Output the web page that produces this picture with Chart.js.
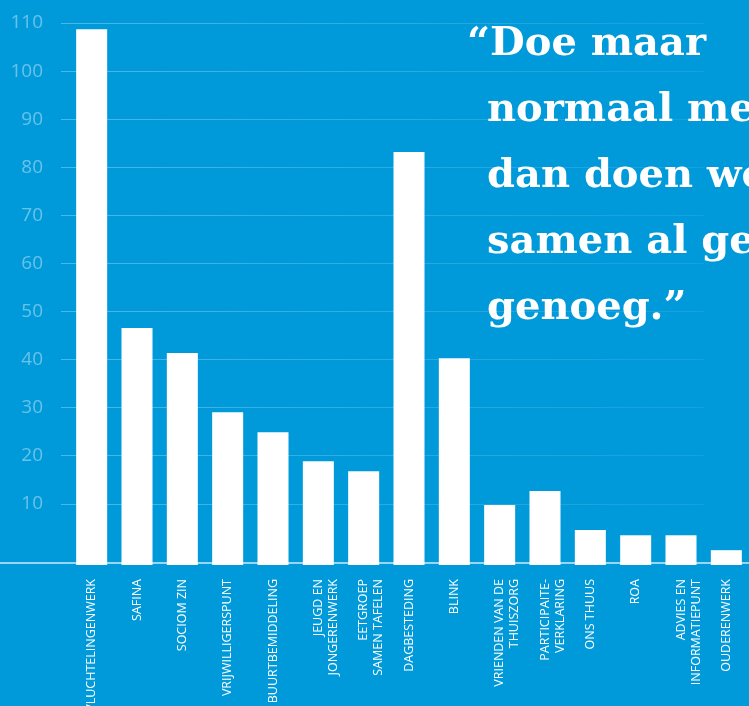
<!DOCTYPE html>
<html>
<head>
<meta charset="utf-8">
<script src="https://cdn.jsdelivr.net/npm/chart.js@4"></script>
<style>
    html, body { margin: 0; padding: 0; background: #009ada; overflow: hidden; }
    #wrap { position: relative; width: 749px; height: 706px; overflow: hidden; }
    #quote {
        position: absolute;
        left: 487px;
        top: 8px;
        width: 400px;
        font-family: "DejaVu Serif", serif;
        font-weight: bold;
        font-size: 40px;
        line-height: 66px;
        color: #ffffff;
        text-indent: -20px;
        white-space: nowrap;
    }
</style>
</head>
<body>
<div id="wrap">
    <canvas id="barChart" width="749" height="706"></canvas>
    <div id="quote">“Doe maar<br>normaal mee,<br>dan doen we<br>samen al gek<br>genoeg.”</div>
</div>
<script>
// Categories (multi-line labels as arrays)
const categories = [
    'VLUCHTELINGENWERK',
    'SAFINA',
    'SOCIOM ZIN',
    'VRIJWILLIGERSPUNT',
    'BUURTBEMIDDELING',
    ['JEUGD EN', 'JONGERENWERK'],
    ['EETGROEP', 'SAMEN TAFELEN'],
    'DAGBESTEDING',
    'BLINK',
    ['VRIENDEN VAN DE', 'THUISZORG'],
    ['PARTICIPAITE-', 'VERKLARING'],
    'ONS THUUS',
    'ROA',
    ['ADVIES EN', 'INFORMATIEPUNT'],
    'OUDERENWERK'
];

// Values read against the gridlines
const values = [108.7, 46.6, 41.4, 29.1, 24.9, 18.9, 16.8, 83.2, 40.3, 9.8, 12.7, 4.6, 3.5, 3.5, 0.4];

// Tick labels on the value axis
const yTicks = [10, 20, 30, 40, 50, 60, 70, 80, 90, 100, 110];

// Bars drop slightly below the zero line in the original
const axisMin = -2.68;
const axisMax = 110;

// Gridlines fade toward the right and stop before the edge
function gridColor(context) {
    const chart = context.chart;
    const g = chart.ctx.createLinearGradient(0, 0, chart.width, 0);
    g.addColorStop(0, 'rgba(255,255,255,0.32)');
    g.addColorStop(0.55, 'rgba(255,255,255,0.16)');
    g.addColorStop(0.938, 'rgba(255,255,255,0.08)');
    g.addColorStop(0.94, 'rgba(255,255,255,0)');
    g.addColorStop(1, 'rgba(255,255,255,0)');
    return g;
}

// Baseline running across the full width
const baseline = {
    id: 'baseline',
    afterDatasetsDraw(chart) {
        const ctx = chart.ctx;
        const y = chart.scales.y.bottom - 2;
        ctx.save();
        ctx.strokeStyle = 'rgba(255,255,255,0.8)';
        ctx.lineWidth = 1.5;
        ctx.beginPath();
        ctx.moveTo(0, y);
        ctx.lineTo(chart.width, y);
        ctx.stroke();
        ctx.restore();
    }
};

const ctx = document.getElementById('barChart').getContext('2d');
new Chart(ctx, {
    type: 'bar',
    data: {
        labels: categories,
        datasets: [{
            data: values,
            base: axisMin,
            backgroundColor: '#ffffff',
            borderWidth: 0,
            barPercentage: 0.684,
            categoryPercentage: 1
        }]
    },
    options: {
        responsive: false,
        animation: false,
        layout: { padding: { top: 23, left: 0, right: 0, bottom: 0 } },
        plugins: { legend: { display: false }, tooltip: { enabled: false } },
        scales: {
            x: {
                grid: { display: false },
                border: { display: false },
                afterFit: (scale) => {
                    scale.height = 141;
                    scale.paddingLeft = 0;
                    scale.paddingRight = 0;
                },
                ticks: {
                    color: '#ffffff',
                    autoSkip: false,
                    maxRotation: 90,
                    minRotation: 90,
                    padding: 6,
                    font: { family: '"Open Sans", sans-serif', size: 12.5 }
                }
            },
            y: {
                min: axisMin,
                max: axisMax,
                afterBuildTicks: (scale) => { scale.ticks = yTicks.map(v => ({ value: v })); },
                afterFit: (scale) => {
                    scale.width = 69;
                    scale.paddingTop = 0;
                    scale.paddingBottom = 0;
                },
                border: { display: false },
                grid: { color: gridColor, lineWidth: 1, tickLength: 8 },
                ticks: {
                    color: 'rgba(255,255,255,0.4)',
                    padding: 18,
                    font: { family: '"Open Sans", sans-serif', size: 19 }
                }
            }
        }
    },
    plugins: [baseline]
});
</script>
</body>
</html>
